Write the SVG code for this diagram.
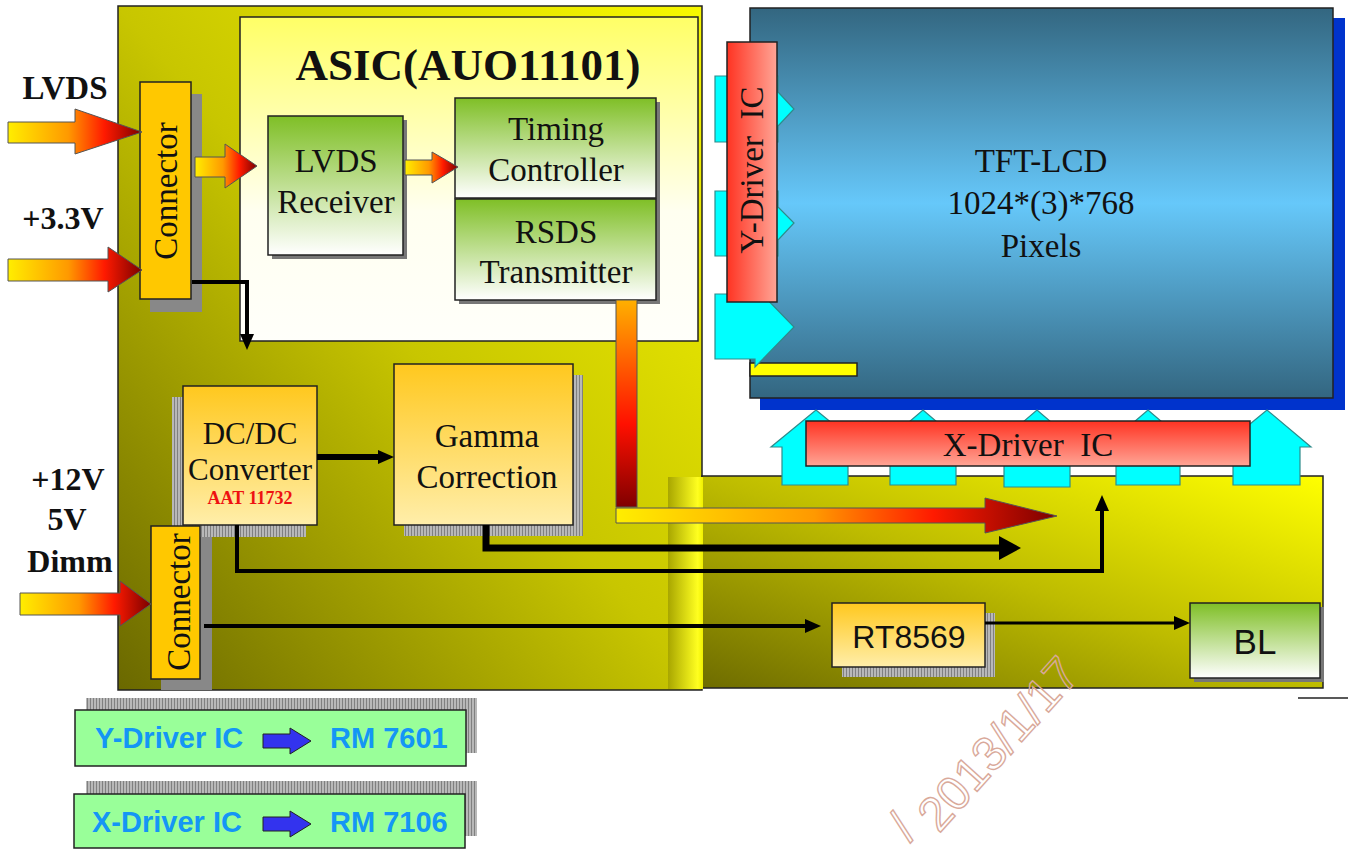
<svg xmlns="http://www.w3.org/2000/svg" width="1348" height="849" viewBox="0 0 1348 849">
<defs>
<style>
.sf{font-family:"Liberation Serif","Times New Roman",serif;fill:#111}
.ss{font-family:"Liberation Sans",Arial,sans-serif;fill:#111}
.b{stroke:#222;stroke-width:1.5}
.ln{fill:none;stroke:#000;stroke-linejoin:miter}
.cy{fill:#00ffff;stroke:#2e8b8b;stroke-width:1.2}
.fat{stroke:#555;stroke-width:1}
.lg{font-family:"Liberation Sans",Arial,sans-serif;font-weight:bold;font-size:29px;fill:#1496f5}
.wm{font-family:"Liberation Sans",Arial,sans-serif;font-size:48px;fill:none;stroke:#d9a99a;stroke-width:1.4}
</style>
<linearGradient id="board" x1="0" y1="1" x2="1" y2="0">
<stop offset="0" stop-color="#6a6800"/><stop offset="0.5" stop-color="#c8c600"/><stop offset="1" stop-color="#f8f800"/>
</linearGradient>
<linearGradient id="board2" x1="0" y1="1" x2="1" y2="0">
<stop offset="0" stop-color="#6e6c00"/><stop offset="0.5" stop-color="#bebc00"/><stop offset="1" stop-color="#ffff00"/>
</linearGradient>
<linearGradient id="band" x1="0" y1="0" x2="1" y2="0">
<stop offset="0" stop-color="#a8a600"/><stop offset="0.85" stop-color="#ffff20"/><stop offset="1" stop-color="#f0f000"/>
</linearGradient>
<linearGradient id="asic" x1="0" y1="0" x2="0" y2="1">
<stop offset="0" stop-color="#ffff66"/><stop offset="0.6" stop-color="#fffff0"/><stop offset="1" stop-color="#fffffa"/>
</linearGradient>
<linearGradient id="green" x1="0" y1="0" x2="0" y2="1">
<stop offset="0" stop-color="#7fbf26"/><stop offset="1" stop-color="#ffffff"/>
</linearGradient>
<linearGradient id="orange" x1="0" y1="0" x2="0" y2="1">
<stop offset="0" stop-color="#ffc81e"/><stop offset="1" stop-color="#ffeeaa"/>
</linearGradient>
<linearGradient id="fat" x1="0" y1="0" x2="1" y2="0">
<stop offset="0" stop-color="#ffee00"/><stop offset="0.45" stop-color="#ff9900"/><stop offset="0.72" stop-color="#ff1a00"/><stop offset="1" stop-color="#7a0000"/>
</linearGradient>
<linearGradient id="vbar" x1="0" y1="0" x2="0" y2="1">
<stop offset="0" stop-color="#ffb000"/><stop offset="0.6" stop-color="#ff1000"/><stop offset="1" stop-color="#800000"/>
</linearGradient>
<linearGradient id="panel" x1="0" y1="0" x2="0" y2="1">
<stop offset="0" stop-color="#336680"/><stop offset="0.5" stop-color="#66c8fa"/><stop offset="1" stop-color="#336680"/>
</linearGradient>
<linearGradient id="redH" x1="0" y1="0" x2="1" y2="0">
<stop offset="0" stop-color="#ff3322"/><stop offset="1" stop-color="#ffa596"/>
</linearGradient>
<linearGradient id="redV" x1="0" y1="0" x2="0" y2="1">
<stop offset="0" stop-color="#ff3322"/><stop offset="1" stop-color="#ffa596"/>
</linearGradient>
<pattern id="hatch" patternUnits="userSpaceOnUse" width="3" height="3">
<rect width="3" height="3" fill="#b8b8b8"/><rect width="1" height="3" fill="#808080"/>
</pattern>
<marker id="ah" markerUnits="userSpaceOnUse" markerWidth="16" markerHeight="14" refX="1" refY="7" orient="auto">
<path d="M0,0 L16,7 L0,14 z" fill="#000"/>
</marker>
<marker id="ahL" markerUnits="userSpaceOnUse" markerWidth="22" markerHeight="24" refX="1" refY="12" orient="auto">
<path d="M0,0 L22,12 L0,24 z" fill="#000"/>
</marker>
</defs>

<rect width="1348" height="849" fill="#ffffff"/>

<g id="boards">
<rect x="118" y="6" width="584" height="684" fill="url(#board)" class="b"/>
<rect x="702" y="476" width="621" height="212" fill="url(#board2)" class="b"/>
<rect x="668" y="477" width="35" height="212" fill="url(#band)"/>
<line x1="1298" y1="698" x2="1348" y2="698" stroke="#222" stroke-width="1.5"/>
</g>

<g id="asic">
<rect x="240" y="17" width="458" height="324" fill="url(#asic)" class="b"/>
<text x="468" y="80" class="sf" font-size="45" font-weight="bold" text-anchor="middle">ASIC(AUO11101)</text>
</g>

<g id="connector1">
<rect x="150" y="94" width="52" height="218" fill="#888"/>
<rect x="140" y="82" width="51" height="217" fill="#ffc800" class="b"/>
<text transform="translate(177,191) rotate(-90)" class="sf" font-size="33" text-anchor="middle">Connector</text>
</g>

<g id="lvds-receiver">
<rect x="272" y="120" width="135" height="139" fill="#777"/>
<rect x="268" y="116" width="135" height="139" fill="url(#green)" class="b"/>
<text x="336" y="172" class="sf" font-size="33" text-anchor="middle">LVDS</text>
<text x="336" y="213" class="sf" font-size="33" text-anchor="middle">Receiver</text>
</g>

<g id="timing-controller">
<rect x="459" y="102" width="201" height="202" fill="#777"/>
<rect x="455" y="98" width="201" height="100" fill="url(#green)" class="b"/>
<text x="556" y="140" class="sf" font-size="33" text-anchor="middle">Timing</text>
<text x="556" y="181" class="sf" font-size="33" text-anchor="middle">Controller</text>
</g>

<g id="rsds-transmitter">
<rect x="455" y="199" width="201" height="101" fill="url(#green)" class="b"/>
<text x="556" y="243" class="sf" font-size="33" text-anchor="middle">RSDS</text>
<text x="556" y="283" class="sf" font-size="33" text-anchor="middle">Transmitter</text>
</g>

<g id="dcdc">
<rect x="172" y="397" width="134" height="140" fill="url(#hatch)"/>
<rect x="183" y="386" width="134" height="139" fill="url(#orange)" class="b"/>
<text x="250" y="444" class="sf" font-size="31" text-anchor="middle">DC/DC</text>
<text x="250" y="480" class="sf" font-size="31" text-anchor="middle">Converter</text>
<text x="250" y="504" class="sf" font-size="18" font-weight="bold" text-anchor="middle" style="fill:#ee1111">AAT 11732</text>
</g>

<g id="gamma">
<rect x="404" y="375" width="179" height="161" fill="url(#hatch)"/>
<rect x="394" y="364" width="179" height="161" fill="url(#orange)" class="b"/>
<text x="487" y="447" class="sf" font-size="33" text-anchor="middle">Gamma</text>
<text x="487" y="488" class="sf" font-size="33" text-anchor="middle">Correction</text>
</g>

<g id="connector2">
<rect x="161" y="537" width="51" height="153" fill="#888"/>
<rect x="151" y="526" width="49" height="153" fill="#ffc800" class="b"/>
<text transform="translate(190,602) rotate(-90)" class="sf" font-size="33" text-anchor="middle">Connector</text>
</g>

<g id="rt8569">
<rect x="842" y="613" width="153" height="64" fill="url(#hatch)"/>
<rect x="832" y="603" width="153" height="64" fill="url(#orange)" class="b"/>
<text x="909" y="648" class="ss" font-size="32" text-anchor="middle">RT8569</text>
</g>

<g id="bl">
<rect x="1194" y="607" width="130" height="75" fill="#777"/>
<rect x="1190" y="603" width="130" height="75" fill="url(#green)" class="b"/>
<text x="1255" y="654" class="ss" font-size="35" text-anchor="middle">BL</text>
</g>

<g id="tft-lcd">
<rect x="760" y="18" width="585" height="392" fill="#0033cc"/>
<rect x="750" y="8" width="583" height="390" fill="url(#panel)" class="b"/>
<text x="1041" y="172" class="sf" font-size="33" text-anchor="middle">TFT-LCD</text>
<text x="1041" y="214" class="sf" font-size="33" text-anchor="middle">1024*(3)*768</text>
<text x="1041" y="257" class="sf" font-size="33" text-anchor="middle">Pixels</text>
</g>

<g id="y-driver">
<polygon class="cy" points="715,76 778,76 778,92 794,109 778,126 778,142 715,142"/>
<polygon class="cy" points="715,191 778,191 778,207 794,223 778,240 778,256 715,256"/>
<rect x="750" y="363" width="107" height="13" fill="#ffff00" class="b"/>
<polygon class="cy" points="715,294 755,294 755,287 794,327 755,367 755,359 715,359"/>
<rect x="727" y="42" width="50" height="260" fill="url(#redH)" class="b"/>
<text transform="translate(763,170) rotate(-90)" class="sf" font-size="33" text-anchor="middle" xml:space="preserve">Y-Driver  IC</text>
</g>

<g id="x-driver">
<polygon class="cy" points="782,485 782,447 771,447 816,410 861,447 848,447 848,485"/>
<polygon class="cy" points="890,485 890,440 888,440 923,410 958,440 956,440 956,485"/>
<polygon class="cy" points="1004,487 1004,440 1002,440 1037,410 1072,440 1070,440 1070,487"/>
<polygon class="cy" points="1116,485 1116,440 1113,440 1148,410 1183,440 1180,440 1180,485"/>
<polygon class="cy" points="1233,485 1233,447 1222,447 1267,410 1311,447 1300,447 1300,485"/>
<rect x="806" y="421" width="444" height="45" fill="url(#redV)" class="b"/>
<text x="1028" y="456" class="sf" font-size="33" text-anchor="middle" xml:space="preserve">X-Driver  IC</text>
</g>

<g id="labels">
<text x="65" y="99" class="sf" font-size="33" font-weight="bold" text-anchor="middle">LVDS</text>
<text x="63" y="229" class="sf" font-size="32" font-weight="bold" text-anchor="middle">+3.3V</text>
<text x="68" y="490" class="sf" font-size="32" font-weight="bold" text-anchor="middle">+12V</text>
<text x="67" y="530" class="sf" font-size="32" font-weight="bold" text-anchor="middle">5V</text>
<text x="70" y="572" class="sf" font-size="32" font-weight="bold" text-anchor="middle">Dimm</text>
</g>

<g id="connectors">
<polygon class="fat" fill="url(#fat)" points="8,122 75,122 75,109 142,132 75,154 75,143 8,143"/>
<polygon class="fat" fill="url(#fat)" points="8,259 108,259 108,247 142,270 108,292 108,281 8,281"/>
<polygon class="fat" fill="url(#fat)" points="195,157 225,157 225,144 257,166 225,188 225,177 195,177"/>
<polygon class="fat" fill="url(#fat)" points="405,160 432,160 432,152 458,167 432,183 432,175 405,175"/>
<polygon class="fat" fill="url(#fat)" points="20,593 120,593 120,581 151,604 120,626 120,615 20,615"/>
<rect class="fat" x="616" y="300" width="21" height="207" fill="url(#vbar)"/>
<polygon class="fat" fill="url(#fat)" points="616,508 985,508 985,498 1057,516 985,533 985,523 616,523"/>
<path class="ln" d="M192,282 H247 V335" stroke-width="4" marker-end="url(#ah)"/>
<path class="ln" d="M317,457 H379" stroke-width="6" marker-end="url(#ah)"/>
<path class="ln" d="M486,525 V548 H1000" stroke-width="7" marker-end="url(#ahL)"/>
<path class="ln" d="M237,525 V571 H1102 V510" stroke-width="4" marker-end="url(#ah)"/>
<path class="ln" d="M204,626 H806" stroke-width="4" marker-end="url(#ah)"/>
<path class="ln" d="M985,623 H1175" stroke-width="3" marker-end="url(#ah)"/>
</g>

<g id="legend-y">
<rect x="86" y="698" width="391" height="55" fill="url(#hatch)"/>
<rect x="75" y="710" width="391" height="56" fill="#99ff99" class="b"/>
<text x="95" y="748" class="lg">Y-Driver IC</text>
<polygon points="263,734 290,734 290,728 311,741 290,754 290,748 263,748" fill="#3333ee" stroke="#222" stroke-width="1"/>
<text x="330" y="748" class="lg">RM 7601</text>
</g>

<g id="legend-x">
<rect x="86" y="781" width="391" height="55" fill="url(#hatch)"/>
<rect x="74" y="794" width="391" height="54" fill="#99ff99" class="b"/>
<text x="92" y="832" class="lg">X-Driver IC</text>
<polygon points="263,817 290,817 290,811 311,824 290,837 290,831 263,831" fill="#3333ee" stroke="#222" stroke-width="1"/>
<text x="330" y="832" class="lg">RM 7106</text>
</g>

<g id="watermark">
<text transform="translate(910,843) rotate(-48)" class="wm">/</text>
<text transform="translate(939,834) rotate(-48)" class="wm">2013/1/17</text>
</g>
</svg>
